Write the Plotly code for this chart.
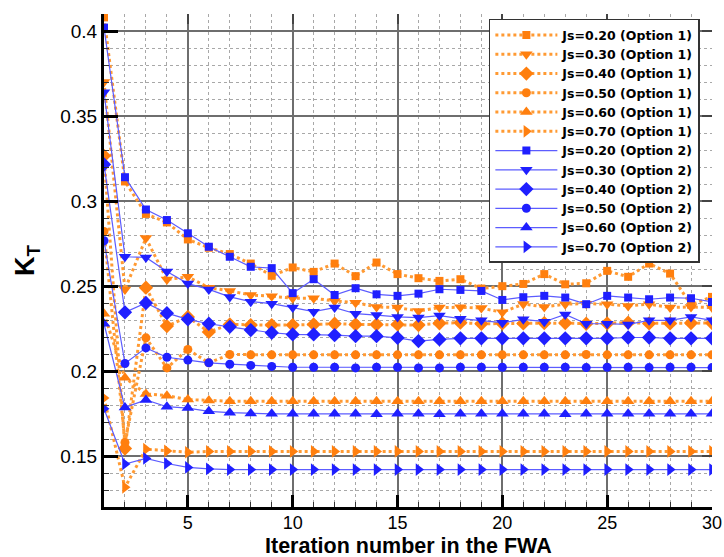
import plotly.graph_objects as go

iterations = list(range(1, 31))

# Option 1 (orange, dotted)
o1_js020 = [0.408, 0.3115, 0.2924, 0.2874, 0.2774, 0.2725, 0.2688, 0.2632, 0.2560, 0.2609,
            0.2583, 0.2632, 0.2558, 0.2638, 0.2570, 0.2546, 0.2530, 0.2540, 0.2485, 0.2499,
            0.2512, 0.2570, 0.2510, 0.2516, 0.2589, 0.2554, 0.2632, 0.2573, 0.2390, 0.2436]
o1_js030 = [0.370, 0.2480, 0.2782, 0.2538, 0.2554, 0.2490, 0.2471, 0.2447, 0.2440, 0.2428,
            0.2428, 0.2412, 0.2402, 0.2377, 0.2373, 0.2353, 0.2373, 0.2375, 0.2370, 0.2345,
            0.2394, 0.2377, 0.2393, 0.2396, 0.2393, 0.2383, 0.2393, 0.2373, 0.2377, 0.2373]
o1_js040 = [0.3266, 0.1544, 0.2490, 0.2264, 0.2318, 0.2230, 0.2274, 0.2270, 0.2270, 0.2270,
            0.2274, 0.2278, 0.2274, 0.2274, 0.2274, 0.2270, 0.2281, 0.2284, 0.2278, 0.2280,
            0.2280, 0.2282, 0.2282, 0.2278, 0.2280, 0.2284, 0.2280, 0.2280, 0.2282, 0.2282]
o1_js050 = [0.2821, 0.1580, 0.2195, 0.2018, 0.2127, 0.2048, 0.2097, 0.2095, 0.2095, 0.2095,
            0.2095, 0.2095, 0.2095, 0.2095, 0.2095, 0.2095, 0.2095, 0.2095, 0.2095, 0.2095,
            0.2095, 0.2095, 0.2095, 0.2097, 0.2095, 0.2095, 0.2095, 0.2095, 0.2095, 0.2095]
o1_js060 = [0.2337, 0.1960, 0.1865, 0.1855, 0.1832, 0.1826, 0.1822, 0.1822, 0.1822, 0.1822,
            0.1822, 0.1822, 0.1822, 0.1822, 0.1822, 0.1822, 0.1822, 0.1822, 0.1822, 0.1822,
            0.1822, 0.1822, 0.1822, 0.1822, 0.1822, 0.1822, 0.1822, 0.1822, 0.1822, 0.1822]
o1_js070 = [0.1841, 0.1316, 0.1540, 0.1530, 0.1522, 0.1527, 0.1527, 0.1527, 0.1527, 0.1527,
            0.1527, 0.1527, 0.1527, 0.1527, 0.1527, 0.1527, 0.1527, 0.1527, 0.1527, 0.1527,
            0.1527, 0.1527, 0.1527, 0.1527, 0.1527, 0.1527, 0.1527, 0.1527, 0.1527, 0.1527]

# Option 2 (blue, solid)
o2_js020 = [0.402, 0.3140, 0.2950, 0.2888, 0.2810, 0.2731, 0.2672, 0.2613, 0.2605, 0.2458,
            0.2540, 0.2447, 0.2487, 0.2451, 0.2442, 0.2455, 0.2481, 0.2477, 0.2471, 0.2418,
            0.2434, 0.2442, 0.2432, 0.2393, 0.2442, 0.2432, 0.2422, 0.2432, 0.2428, 0.2406]
o2_js030 = [0.364, 0.2672, 0.2668, 0.2585, 0.2514, 0.2480, 0.2436, 0.2408, 0.2396, 0.2373,
            0.2349, 0.2373, 0.2337, 0.2329, 0.2318, 0.2314, 0.2326, 0.2308, 0.2298, 0.2284,
            0.2304, 0.2290, 0.2333, 0.2278, 0.2278, 0.2274, 0.2298, 0.2298, 0.2318, 0.2298]
o2_js040 = [0.3215, 0.2345, 0.2400, 0.2340, 0.2304, 0.2278, 0.2260, 0.2241, 0.2225, 0.2215,
            0.2215, 0.2211, 0.2205, 0.2205, 0.2195, 0.2176, 0.2186, 0.2192, 0.2192, 0.2192,
            0.2192, 0.2192, 0.2192, 0.2192, 0.2192, 0.2197, 0.2197, 0.2192, 0.2192, 0.2192]
o2_js050 = [0.2766, 0.2044, 0.2136, 0.2081, 0.2064, 0.2048, 0.2040, 0.2033, 0.2027, 0.2022,
            0.2022, 0.2022, 0.2018, 0.2022, 0.2022, 0.2018, 0.2018, 0.2022, 0.2022, 0.2022,
            0.2022, 0.2022, 0.2022, 0.2020, 0.2022, 0.2022, 0.2020, 0.2022, 0.2022, 0.2020]
o2_js060 = [0.2278, 0.1786, 0.1830, 0.1790, 0.1782, 0.1763, 0.1755, 0.1750, 0.1748, 0.1748,
            0.1748, 0.1748, 0.1748, 0.1746, 0.1748, 0.1748, 0.1746, 0.1748, 0.1748, 0.1748,
            0.1748, 0.1748, 0.1746, 0.1748, 0.1748, 0.1748, 0.1748, 0.1748, 0.1748, 0.1748]
o2_js070 = [0.1778, 0.1453, 0.1486, 0.1456, 0.1433, 0.1424, 0.1420, 0.1420, 0.1420, 0.1420,
            0.1420, 0.1420, 0.1420, 0.1420, 0.1420, 0.1420, 0.1420, 0.1420, 0.1420, 0.1420,
            0.1420, 0.1420, 0.1420, 0.1420, 0.1420, 0.1420, 0.1420, 0.1420, 0.1420, 0.1420]

option1_series = [o1_js020, o1_js030, o1_js040, o1_js050, o1_js060, o1_js070]
option2_series = [o2_js020, o2_js030, o2_js040, o2_js050, o2_js060, o2_js070]
js_labels = ["0.20", "0.30", "0.40", "0.50", "0.60", "0.70"]
symbols = ["square", "triangle-down", "diamond", "circle", "triangle-up", "triangle-right"]
sizes = [8, 11, 11, 9, 11, 11]
x_title = "Iteration number in the FWA"
y_title = "K<sub>T</sub>"

ORANGE = "#ff7f0e"
ORANGE_LINE = "#ff9a33"
BLUE = "#1f1fff"
BLUE_LINE = "#5c5cff"

fig = go.Figure()
for vals, js, sym, sz in zip(option1_series, js_labels, symbols, sizes):
    fig.add_trace(go.Scatter(
        x=iterations, y=vals, mode="lines+markers",
        name=f"Js={js} (Option 1)",
        line=dict(color=ORANGE_LINE, width=3, dash="dot"),
        marker=dict(symbol=sym, size=sz, color=ORANGE, line=dict(width=0)),
    ))
for vals, js, sym, sz in zip(option2_series, js_labels, symbols, sizes):
    fig.add_trace(go.Scatter(
        x=iterations, y=vals, mode="lines+markers",
        name=f"Js={js} (Option 2)",
        line=dict(color=BLUE_LINE, width=1.2),
        marker=dict(symbol=sym, size=sz, color=BLUE, line=dict(width=0)),
    ))

# invisible trace to drive mirrored tick axes (top / right)
fig.add_trace(go.Scatter(x=[1, 30], y=[0.12, 0.41], xaxis="x2", yaxis="y2",
                         mode="markers", marker=dict(opacity=0), showlegend=False,
                         hoverinfo="skip"))

font_family = "Liberation Sans, Arial, sans-serif"

fig.update_layout(
    width=724, height=557,
    margin=dict(l=104, r=12, t=14, b=50, autoexpand=False),
    paper_bgcolor="white", plot_bgcolor="white",
    font=dict(family=font_family, color="black"),
    showlegend=True,
    legend=dict(
        x=0.633, y=0.99, xanchor="left", yanchor="top",
        bgcolor="white", bordercolor="#333333", borderwidth=1.5,
        font=dict(family="DejaVu Sans, sans-serif", size=12.5, color="black", weight="bold"),
        itemwidth=62, tracegroupgap=0,
    ),
    xaxis=dict(
        range=[1, 30], tickvals=[5, 10, 15, 20, 25, 30],
        automargin=False,
        showline=True, linecolor="black", linewidth=3,
        ticks="inside", ticklen=12, tickwidth=3, tickcolor="black",
        tickfont=dict(size=18, family=font_family),
        ticklabelstandoff=-3,
        showgrid=True, gridcolor="#6e6e6e", gridwidth=1.5,
        minor=dict(dtick=1, tick0=0, ticks="inside", ticklen=5, tickwidth=1.2,
                   tickcolor="#333333", showgrid=True, gridcolor="#a8a8a8",
                   griddash="dot", gridwidth=1),
        zeroline=False,
    ),
    yaxis=dict(
        range=[0.12, 0.41], tickvals=[0.15, 0.2, 0.25, 0.3, 0.35, 0.4],
        ticktext=["0.15", "0.2", "0.25", "0.3", "0.35", "0.4"],
        automargin=False,
        showline=True, linecolor="black", linewidth=3,
        ticks="inside", ticklen=14, tickwidth=3, tickcolor="black",
        tickfont=dict(size=19, family=font_family),
        showgrid=True, gridcolor="#6e6e6e", gridwidth=1.5,
        minor=dict(dtick=0.01, tick0=0, ticks="inside", ticklen=5, tickwidth=1.2,
                   tickcolor="#333333", showgrid=True, gridcolor="#a8a8a8",
                   griddash="dot", gridwidth=1),
        zeroline=False,
        title=dict(text=f"<b>{y_title}</b>",
                   font=dict(size=27, family=font_family), standoff=18),
    ),
    xaxis2=dict(overlaying="x", side="top", range=[1, 30], tickvals=[5, 10, 15, 20, 25, 30],
                showticklabels=False, ticks="inside", ticklen=10, tickwidth=1.5,
                tickcolor="#444444", showgrid=False, zeroline=False, showline=False,
                automargin=False),
    yaxis2=dict(overlaying="y", side="right", range=[0.12, 0.41],
                tickvals=[0.15, 0.2, 0.25, 0.3, 0.35, 0.4],
                showticklabels=False, ticks="inside", ticklen=10, tickwidth=1.5,
                tickcolor="#444444", showgrid=False, zeroline=False, showline=False,
                automargin=False),
    annotations=[dict(
        text=f"<b>{x_title}</b>", xref="paper", yref="paper",
        x=0.5, y=-0.107, xanchor="center", yanchor="bottom", showarrow=False,
        font=dict(size=21.5, family=font_family, color="black"),
    )],
)

fig.write_html("out.html")
